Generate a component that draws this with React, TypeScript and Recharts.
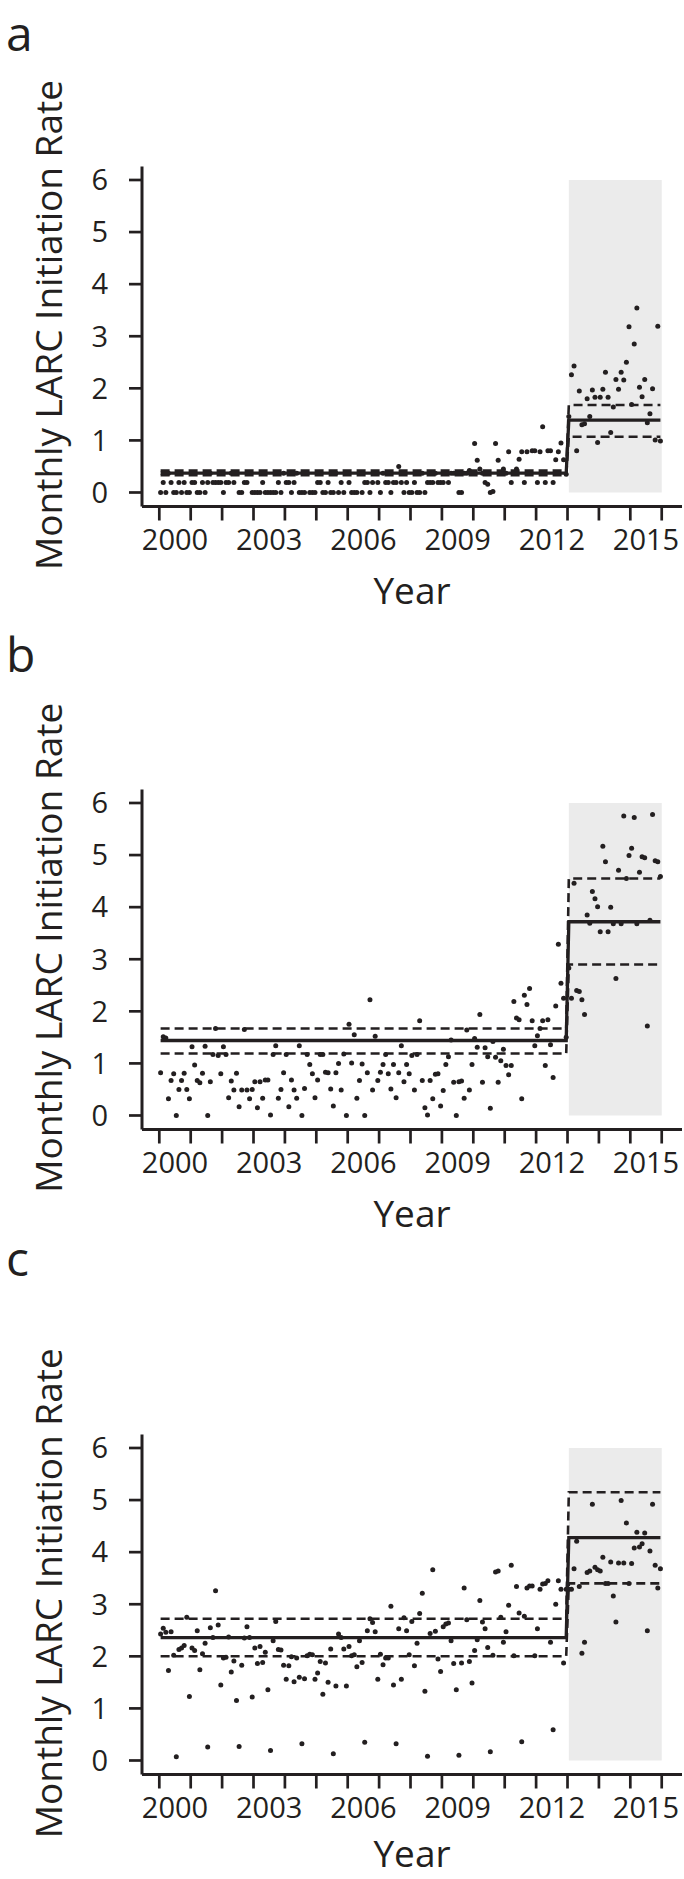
import React from 'react';
import { ComposedChart, Scatter, XAxis, YAxis, ReferenceArea } from 'recharts';

// monthly LARC initiation rates, Jan 2000 .. Dec 2015 (one row per year)
const startYear = 2000;
const interventionYear = 2013;
const shadeEnd = 2016;
const tickYears = [2000, 2001, 2002, 2003, 2004, 2005, 2006, 2007, 2008, 2009, 2010, 2011, 2012, 2013, 2014, 2015, 2016];
const labelYears = [2000, 2003, 2006, 2009, 2012, 2015];
const rateTicks = [0, 1, 2, 3, 4, 5, 6];

const rateA = [
  0, 0.19, 0, 0.37, 0.19, 0, 0, 0.19, 0, 0.19, 0, 0,
  0.19, 0.19, 0, 0, 0.19, 0, 0.19, 0.37, 0.19, 0.19, 0.19, 0.19,
  0, 0.19, 0.19, 0.37, 0.19, 0.37, 0, 0, 0.19, 0.19, 0.37, 0,
  0, 0, 0, 0.19, 0, 0, 0, 0, 0, 0.19, 0, 0.37,
  0.19, 0.19, 0, 0.19, 0.37, 0, 0, 0, 0.37, 0, 0, 0,
  0.19, 0.19, 0, 0, 0.19, 0, 0, 0.37, 0, 0.19, 0, 0.37,
  0.19, 0, 0, 0, 0.37, 0, 0.19, 0.19, 0, 0.19, 0.37, 0.19,
  0, 0.37, 0.19, 0.19, 0, 0.19, 0.19, 0.5, 0.19, 0, 0.19, 0,
  0, 0.19, 0, 0, 0.37, 0, 0.19, 0.19, 0.19, 0.37, 0.19, 0.19,
  0.19, 0.37, 0.19, 0.37, 0.37, 0.37, 0, 0, 0.37, 0.37, 0.42, 0.37,
  0.94, 0.62, 0.45, 0.37, 0.19, 0.16, 0, 0.02, 0.94, 0.62, 0.37, 0.45,
  0.37, 0.78, 0.19, 0.37, 0.45, 0.64, 0.78, 0.19, 0.78, 0.37, 0.8, 0.8,
  0.19, 0.78, 1.26, 0.19, 0.8, 0.8, 0.19, 0.63, 0.78, 0.95, 0.63, 0.35,
  1.46, 2.26, 2.43, 0.8, 1.95, 1.3, 1.32, 1.8, 1.46, 1.97, 1.83, 0.96,
  1.83, 1.98, 2.31, 1.83, 1.15, 1.64, 2.17, 1.98, 2.31, 2.16, 2.5, 3.18,
  1.69, 2.85, 3.54, 2.02, 1.84, 2.17, 1.34, 1.51, 1.99, 1.01, 3.19, 0.99,
];

const rateB = [
  0.82, 1.51, 1.49, 0.32, 0.67, 0.8, 0, 0.5, 0.67, 0.81, 0.5, 0.32,
  1.32, 0.97, 0.67, 0.63, 0.81, 1.33, 0, 0.65, 1.17, 1.67, 1.15, 0.8,
  1.32, 1.17, 0.34, 0.66, 0.49, 0.81, 0.17, 0.49, 1.65, 0.49, 0.32, 0.5,
  0.65, 0.15, 0.65, 0.33, 0.68, 0.68, 0.01, 1.17, 1.34, 0.33, 0.5, 0.82,
  1.17, 0.17, 0.68, 0.49, 0.33, 1.34, 0, 0.52, 1.17, 0.98, 0.8, 0.34,
  0.68, 1.17, 1.17, 0.83, 0.82, 0.51, 0.18, 0.82, 1.0, 0.49, 1.18, 0,
  1.75, 1.01, 1.55, 0.33, 0.67, 0.99, 0, 0.82, 2.22, 0.49, 1.52, 0.67,
  0.83, 0.98, 1.17, 0.8, 0.51, 0.98, 0.34, 0.82, 1.34, 0.65, 0.98, 0.8,
  1.15, 0.49, 1.17, 1.82, 0.67, 0.15, 0.01, 0.67, 0.32, 0.79, 0.8, 0.18,
  0.48, 0.98, 1.13, 1.45, 0.64, 0, 0.65, 0.66, 0.33, 1.64, 0.49, 0.98,
  1.48, 1.31, 1.94, 0.64, 1.3, 1.13, 0.14, 1.42, 1.12, 0.64, 1.05, 1.27,
  0.96, 0.78, 0.96, 2.19, 1.87, 1.84, 0.32, 2.31, 2.13, 2.44, 1.82, 1.34,
  1.53, 1.67, 1.82, 0.96, 1.84, 1.36, 0.73, 2.1, 3.29, 2.54, 2.25, 1.5,
  2.83, 2.25, 4.46, 2.4, 2.38, 2.22, 1.94, 3.85, 3.69, 4.3, 4.16, 4.01,
  3.53, 5.17, 4.87, 3.53, 4.0, 3.68, 2.63, 4.71, 3.68, 5.75, 4.55, 4.99,
  5.13, 5.72, 3.68, 4.67, 4.97, 4.95, 1.72, 3.75, 5.78, 4.89, 4.87, 4.59,
];

const rateC = [
  2.43, 2.54, 2.46, 1.73, 2.47, 2.02, 0.07, 2.13, 2.16, 2.21, 2.75, 1.23,
  2.16, 2.11, 2.49, 1.74, 2.05, 2.25, 0.26, 2.55, 2.36, 3.26, 2.6, 1.45,
  1.97, 1.98, 2.37, 1.7, 1.91, 1.15, 0.27, 1.83, 2.35, 2.57, 2.36, 1.22,
  2.16, 1.86, 2.19, 1.88, 2.08, 1.36, 0.19, 2.3, 2.67, 2.13, 2.12, 1.83,
  1.56, 1.82, 1.99, 1.51, 1.97, 1.6, 0.32, 1.57, 2.01, 2.04, 2.03, 1.56,
  1.68, 1.9, 1.27, 1.87, 1.5, 2.14, 0.13, 1.43, 2.43, 2.36, 2.14, 1.43,
  2.19, 2.01, 2.03, 1.8, 2.3, 1.88, 0.35, 2.49, 2.72, 2.65, 2.47, 1.56,
  2.04, 1.84, 1.97, 1.97, 2.96, 1.45, 0.32, 2.53, 1.56, 2.74, 2.49, 2.03,
  2.67, 1.82, 2.25, 2.82, 3.21, 1.33, 0.08, 2.44, 3.66, 2.48, 1.95, 1.71,
  2.57, 2.62, 2.64, 2.3, 1.86, 1.36, 0.1, 1.87, 3.31, 2.7, 1.9, 1.49,
  2.11, 2.32, 3.07, 2.66, 2.53, 2.17, 0.17, 2.02, 3.62, 3.64, 2.75, 2.27,
  2.47, 2.98, 3.75, 2.01, 3.34, 2.83, 0.36, 2.77, 3.31, 3.35, 3.35, 2.01,
  2.53, 3.29, 3.39, 3.4, 3.45, 2.27, 0.59, 3.0, 3.45, 3.29, 1.87, 3.29,
  3.29, 3.29, 3.68, 4.21, 3.34, 2.06, 2.27, 3.61, 3.64, 4.92, 3.71, 3.66,
  3.64, 3.9, 3.4, 3.4, 3.81, 3.16, 2.66, 3.79, 4.99, 3.79, 4.56, 3.4,
  3.78, 4.08, 4.38, 4.1, 4.16, 4.37, 2.49, 4.02, 4.92, 3.75, 3.31, 3.68,
];

// fitted level [pre, post] and its confidence band
const fitA = [0.37, 1.39];
const upperA = [0.42, 1.68];
const lowerA = [0.33, 1.07];
const fitB = [1.44, 3.72];
const upperB = [1.67, 4.55];
const lowerB = [1.19, 2.9];
const fitC = [2.36, 4.28];
const upperC = [2.72, 5.15];
const lowerC = [2.0, 3.4];

const INK = '#231f20';
const FONT = '"Open Sans", sans-serif';
const CHART_W = 684;
const CHART_H = 610;
const Y_AXIS_W = 60;
const X_AXIS_H = 60;
const MARGIN = { top: 166.5, right: 2, bottom: 43.5, left: 82 };
const PLOT_W = CHART_W - MARGIN.left - MARGIN.right - Y_AXIS_W;
const X_DOMAIN = [1999.449, 2016.646];
const Y_DOMAIN = [-0.269, 6.259];
const halfYearPx = (0.5 * PLOT_W) / (X_DOMAIN[1] - X_DOMAIN[0]);

const monthTime = (i: number) => startYear + (i + 0.5) / 12;
const preCount = (interventionYear - startYear) * 12;

const toPoints = (rates: number[]) => rates.map((v, i) => ({ x: monthTime(i), y: v }));

const stepLine = (levels: number[], total: number) => [
  { x: monthTime(0), y: levels[0] },
  { x: monthTime(preCount - 1), y: levels[0] },
  { x: monthTime(preCount), y: levels[1] },
  { x: monthTime(total - 1), y: levels[1] },
];

const Dot = (p: any) => <circle cx={p.cx} cy={p.cy} r={2.5} fill={INK} />;
const NoDot = () => <g />;

const YearTick = (props: any) => {
  const { x, y, payload } = props;
  if (!labelYears.includes(payload.value)) return <g />;
  return (
    <text x={x + halfYearPx} y={y + 27.5} textAnchor="middle" fontSize={29} fontFamily={FONT} fill={INK}>
      {payload.value}
    </text>
  );
};

const panels = [
  { letter: 'a', top: 0, rates: rateA, fit: fitA, upper: upperA, lower: lowerA, letterTop: 9, yearTop: 575 },
  { letter: 'b', top: 622.7, rates: rateB, fit: fitB, upper: upperB, lower: lowerB, letterTop: 630, yearTop: 1198 },
  { letter: 'c', top: 1268.3, rates: rateC, fit: fitC, upper: upperC, lower: lowerC, letterTop: 1234, yearTop: 1838 },
];

// plain html labels: tight line boxes keep them inside the page
const labelStyle = (left: number, top: number, size: number, lh: number): React.CSSProperties => ({
  position: 'absolute',
  left,
  top,
  fontFamily: FONT,
  fontSize: size,
  lineHeight: `${lh}px`,
  color: INK,
  whiteSpace: 'nowrap',
});

const Panel = ({ p }: { p: any }) => {
  const total = p.rates.length;
  const dashed = { stroke: INK, strokeWidth: 2.6, strokeDasharray: '9 5', fill: 'none' };
  return (
    <div style={{ position: 'absolute', left: 0, top: p.top }}>
      <ComposedChart width={CHART_W} height={CHART_H} margin={MARGIN}>
        <XAxis
          type="number"
          dataKey="x"
          domain={X_DOMAIN}
          allowDataOverflow
          ticks={tickYears}
          interval={0}
          height={X_AXIS_H}
          tickSize={14}
          tick={<YearTick />}
          tickLine={{ stroke: INK, strokeWidth: 2.7 }}
          axisLine={{ stroke: INK, strokeWidth: 3 }}
        />
        <YAxis
          type="number"
          dataKey="y"
          domain={Y_DOMAIN}
          allowDataOverflow
          ticks={rateTicks}
          interval={0}
          width={Y_AXIS_W}
          tickSize={13}
          tickMargin={21}
          tick={{ fontSize: 29, fontFamily: FONT, fill: INK }}
          tickLine={{ stroke: INK, strokeWidth: 2.7 }}
          axisLine={{ stroke: INK, strokeWidth: 3 }}
        />
        <ReferenceArea
          x1={monthTime(preCount)}
          x2={shadeEnd}
          y1={0}
          y2={6}
          fill="#ebebeb"
          fillOpacity={1}
          stroke="none"
        />
        <Scatter data={toPoints(p.rates)} shape={Dot} isAnimationActive={false} />
        <Scatter data={stepLine(p.upper, total)} line={dashed} shape={NoDot} isAnimationActive={false} />
        <Scatter data={stepLine(p.lower, total)} line={dashed} shape={NoDot} isAnimationActive={false} />
        <Scatter
          data={stepLine(p.fit, total)}
          line={{ stroke: INK, strokeWidth: 3.3, fill: 'none' }}
          shape={NoDot}
          isAnimationActive={false}
        />
      </ComposedChart>
    </div>
  );
};

export default function App() {
  return (
    <div style={{ position: 'absolute', left: 0, top: 0, width: 684, height: 1879, overflow: 'hidden', background: '#fff' }}>
      {panels.map((p) => (
        <Panel key={p.letter} p={p} />
      ))}
      <svg width={684} height={1879} style={{ position: 'absolute', left: 0, top: 0, pointerEvents: 'none' }}>
        {panels.map((p) => (
          <text
            key={p.letter}
            x={62}
            y={p.top + 325}
            fontSize={37}
            fontFamily={FONT}
            fill={INK}
            textAnchor="middle"
            transform={`rotate(-90 62 ${p.top + 325})`}
          >
            Monthly LARC Initiation Rate
          </text>
        ))}
      </svg>
      {panels.map((p) => (
        <React.Fragment key={p.letter}>
          <div style={labelStyle(6, p.letterTop, 48, 48)}>{p.letter}</div>
          <div style={{ ...labelStyle(312, p.yearTop, 37, 30), width: 200, textAlign: 'center' }}>Year</div>
        </React.Fragment>
      ))}
    </div>
  );
}
